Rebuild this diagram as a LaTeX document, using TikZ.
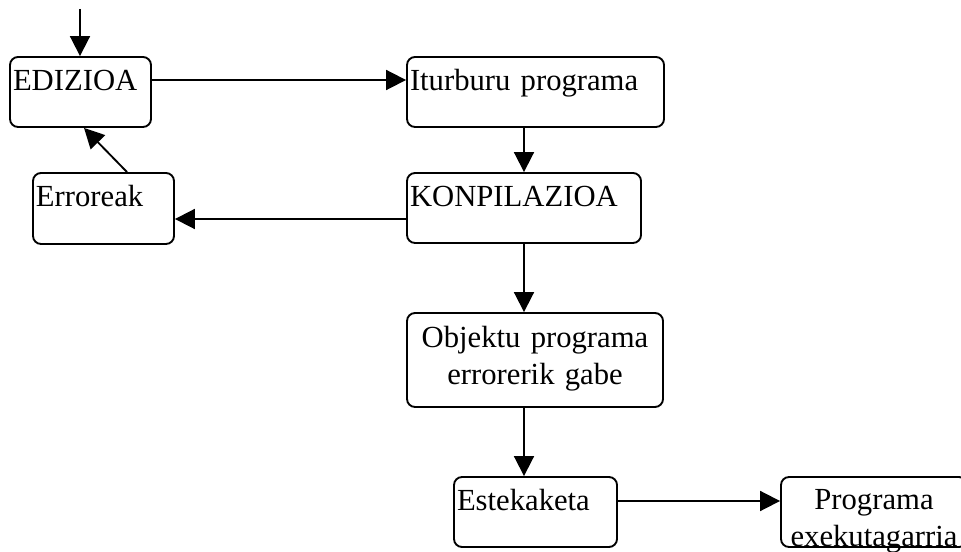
\documentclass[tikz,border=0pt]{standalone}
\usepackage{fontspec}
\setmainfont{Liberation Serif}
\usetikzlibrary{arrows.meta}
\tikzset{
  box/.style={draw, rounded corners=6pt, line width=1.4pt, inner xsep=2.25pt, inner ysep=0pt,
              text height=25pt, font=\fontsize{23pt}{27.75pt}\selectfont},
  arr/.style={line width=1.4pt, -{Triangle[length=15pt,width=15pt]}},
}
\begin{document}
\begin{tikzpicture}[x=0.75pt,y=-0.75pt]
\useasboundingbox (0,0) rectangle (961,552);
\clip (0,0) rectangle (961,552);
% boxes
\node[box, text width=101.25pt, text depth=27.5pt, align=left] (ediz) at (80.5,92) {EDIZIOA};
\node[box, text width=188.25pt, text depth=27.5pt, align=left] (itur) at (535.5,92) {Iturburu programa};
\node[box, text width=101.25pt, text depth=28.25pt, align=left] (erro) at (103.5,208.5) {Erroreak};
\node[box, text width=171pt, text depth=27.5pt, align=left] (konp) at (524,208) {KONPILAZIOA};
\node[box, text width=187.5pt, text height=26.25pt, text depth=44.25pt, align=center] (obj) at (535,360) {Objektu programa\\errorerik gabe};
\node[box, text width=117.75pt, text depth=27.5pt, align=left] (este) at (535.5,512) {Estekaketa};
\node[box, text width=135pt, text height=24pt, text depth=28.5pt, align=center] (prog) at (874,512) {Programa\\exekutagarria};
% connectors
\coordinate (in) at (80,9);
\draw[arr] (in) -- (in |- ediz.north);
\draw[arr] (ediz.east |- 0,80) -- (itur.west |- 0,80);
\draw[arr] (konp.north |- itur.south) -- (konp.north);
\draw[arr] (konp.west |- 0,219) -- (erro.east |- 0,219);
\draw[arr] (erro.north -| 127,0) -- (ediz.south -| 84,0);
\draw[arr] (konp.south) -- (konp.south |- obj.north);
\draw[arr] (obj.south -| 524,0) -- (este.north -| 524,0);
\draw[arr] (este.east |- 0,501) -- (prog.west |- 0,501);
\end{tikzpicture}
\end{document}
